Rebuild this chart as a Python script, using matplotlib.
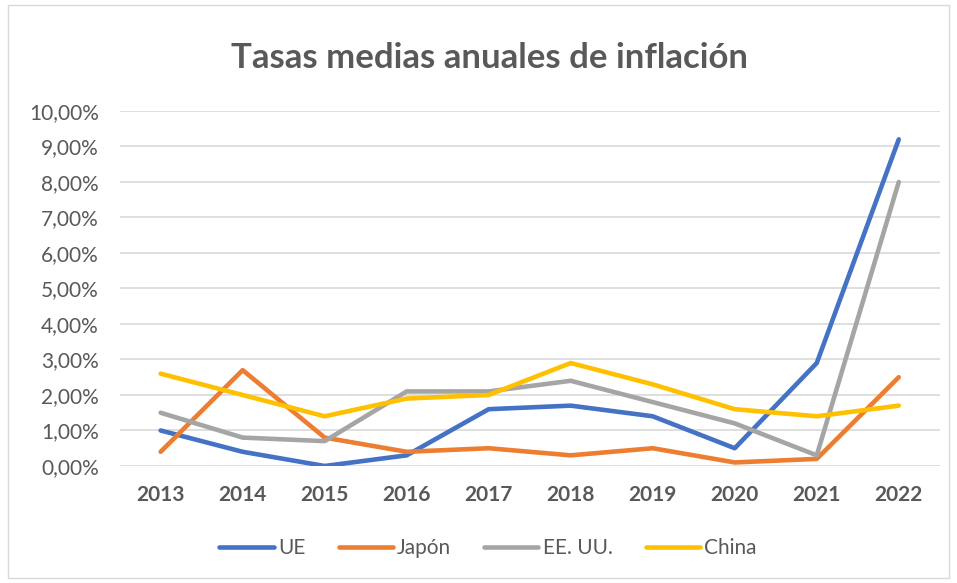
import matplotlib
matplotlib.use("Agg")
import matplotlib.pyplot as plt
from matplotlib.ticker import FuncFormatter, MultipleLocator
from matplotlib.patches import Rectangle

years = ["2013", "2014", "2015", "2016", "2017", "2018", "2019", "2020", "2021", "2022"]
ue = [1.0, 0.4, 0.0, 0.3, 1.6, 1.7, 1.4, 0.5, 2.9, 9.2]
japon = [0.4, 2.7, 0.8, 0.4, 0.5, 0.3, 0.5, 0.1, 0.2, 2.5]
eeuu = [1.5, 0.8, 0.7, 2.1, 2.1, 2.4, 1.8, 1.2, 0.3, 8.0]
china = [2.6, 2.0, 1.4, 1.9, 2.0, 2.9, 2.3, 1.6, 1.4, 1.7]

plt.rcParams['font.family'] = ['Lato', 'DejaVu Sans']
txt = '#595959'

fig = plt.figure(figsize=(9.57, 5.83), dpi=100)
ax = fig.add_axes([0.125, 0.2007, 0.857, 0.609])

x = range(len(years))
ax.plot(x, ue, color='#4472C4', lw=3.3, label='UE', solid_capstyle='round', solid_joinstyle='round')
ax.plot(x, japon, color='#ED7D31', lw=3.3, label='Japón', solid_capstyle='round', solid_joinstyle='round')
ax.plot(x, eeuu, color='#A5A5A5', lw=3.3, label='EE. UU.', solid_capstyle='round', solid_joinstyle='round')
ax.plot(x, china, color='#FFC000', lw=3.3, label='China', solid_capstyle='round', solid_joinstyle='round')

ax.set_xlim(-0.5, len(years) - 0.5)
ax.set_ylim(0, 10)
ax.yaxis.set_major_locator(MultipleLocator(1))
ax.yaxis.set_major_formatter(FuncFormatter(lambda v, p: f"{v:.2f}".replace('.', ',') + '%'))
ax.set_xticks(list(x))
ax.set_xticklabels(years, fontweight='bold')
ax.tick_params(axis='both', length=0, labelsize=15, colors=txt)
ax.tick_params(axis='x', pad=14)
ax.tick_params(axis='y', pad=15)
ax.grid(axis='y', color='#D9D9D9', lw=1.2)
ax.set_axisbelow(True)
for s in ax.spines.values():
    s.set_visible(False)

fig.text(0.512, 0.9, "Tasas medias anuales de inflación", ha='center', va='center',
         fontsize=25, fontweight='bold', color=txt)

leg = ax.legend(loc='center', bbox_to_anchor=(0.51, 0.06), bbox_transform=fig.transFigure,
                ncol=4, frameon=False, fontsize=15, handlelength=2.6, columnspacing=1.6,
                handletextpad=0.2)
for t in leg.get_texts():
    t.set_color(txt)

fig.patches.append(Rectangle((0.008, 0.008), 0.984, 0.984, transform=fig.transFigure,
                             fill=False, edgecolor='#D9D9D9', lw=1))

fig.savefig("out.png", dpi=100)
